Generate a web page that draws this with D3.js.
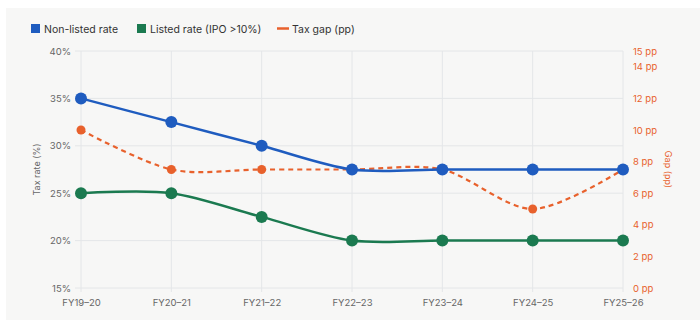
<!DOCTYPE html>
<html>
<head>
<meta charset="utf-8">
<script src="https://cdn.jsdelivr.net/npm/d3@7"></script>
<style>
  html, body { margin: 0; padding: 0; background: #ffffff; }
  svg { display: block; }
  text { font-family: Inter, "Noto Sans", sans-serif; }
</style>
</head>
<body>
<svg id="chart" width="700" height="320"></svg>
<script>
// Fiscal years on the x axis
const years = ["FY19–20", "FY20–21", "FY21–22", "FY22–23", "FY23–24", "FY24–25", "FY25–26"];
// Effective tax rates (%)
const nonListedRate = [35, 32.5, 30, 27.5, 27.5, 27.5, 27.5];
const listedRate = [25, 25, 22.5, 20, 20, 20, 20];
// Gap between the two regimes, percentage points
const taxGap = [10, 7.5, 7.5, 7.5, 7.5, 5, 7.5];
// Axis ticks
const rateTicks = [15, 20, 25, 30, 35, 40];
const gapTicks = [0, 2, 4, 6, 8, 10, 12, 14, 15];

const colors = { blue: "#1f5cbf", green: "#1b7a50", orange: "#e8612c" };

const svg = d3.select("#chart");
const W = 700, H = 320;
const m = { left: 81, right: 77, top: 51, bottom: 32 };

svg.append("rect").attr("x", 6).attr("y", 8).attr("width", W - 6).attr("height", H - 8)
  .attr("fill", "#f7f7f6");

const x = d3.scalePoint().domain(years).range([m.left, W - m.right]);
const yRate = d3.scaleLinear().domain([15, 40]).range([H - m.bottom, m.top]);
const yGap = d3.scaleLinear().domain([0, 15]).range([H - m.bottom, m.top]);

// grid
const grid = svg.append("g");
grid.selectAll(".vg").data(years).join("line")
  .attr("x1", d => x(d)).attr("x2", d => x(d))
  .attr("y1", m.top).attr("y2", H - m.bottom + 4)
  .attr("stroke", "#e4e6e8").attr("stroke-width", 1);
grid.selectAll(".hg").data(rateTicks).join("line")
  .attr("x1", m.left - 6).attr("x2", W - m.right)
  .attr("y1", d => yRate(d)).attr("y2", d => yRate(d))
  .attr("stroke", "#e4e6e8").attr("stroke-width", 1);

// left axis
const leftAxis = svg.append("g").attr("transform", `translate(${m.left},0)`)
  .call(d3.axisLeft(yRate).tickValues(rateTicks).tickFormat(d => d + "%").tickSize(0).tickPadding(10));
leftAxis.select(".domain").remove();
leftAxis.selectAll("text").attr("fill", "#666").attr("font-size", 9.5);

// right axis
const rightAxis = svg.append("g").attr("transform", `translate(${W - m.right},0)`)
  .call(d3.axisRight(yGap).tickValues(gapTicks).tickFormat(d => d + " pp").tickSize(0).tickPadding(10));
rightAxis.select(".domain").remove();
rightAxis.selectAll("text").attr("fill", colors.orange).attr("font-size", 9.5);

// bottom axis
const bottomAxis = svg.append("g").attr("transform", `translate(0,${H - m.bottom})`)
  .call(d3.axisBottom(x).tickSize(0).tickPadding(11));
bottomAxis.select(".domain").remove();
bottomAxis.selectAll("text").attr("fill", "#666").attr("font-size", 9.5);

// axis titles
svg.append("text").attr("transform", `translate(40,${(m.top + H - m.bottom) / 2}) rotate(-90)`)
  .attr("text-anchor", "middle").attr("fill", "#666").attr("font-size", 9).text("Tax rate (%)");
svg.append("text").attr("transform", `translate(665,${(m.top + H - m.bottom) / 2}) rotate(90)`)
  .attr("text-anchor", "middle").attr("fill", colors.orange).attr("font-size", 9).text("Gap (pp)");

const curve = d3.curveCardinal.tension(0.1);

function drawSeries(values, scale, color, opts) {
  const line = d3.line().x((d, i) => x(years[i])).y(d => scale(d)).curve(curve);
  svg.append("path").datum(values).attr("d", line)
    .attr("fill", "none").attr("stroke", color).attr("stroke-width", opts.width)
    .attr("stroke-dasharray", opts.dash || null);
  svg.append("g").selectAll("circle").data(values).join("circle")
    .attr("cx", (d, i) => x(years[i])).attr("cy", d => scale(d)).attr("r", opts.r)
    .attr("fill", color);
}

drawSeries(taxGap, yGap, colors.orange, { width: 2.2, dash: "5,4", r: 4.5 });
drawSeries(listedRate, yRate, colors.green, { width: 2.5, r: 6 });
drawSeries(nonListedRate, yRate, colors.blue, { width: 2.5, r: 6 });

// legend
const legend = svg.append("g").attr("font-size", 10.5).attr("fill", "#333");
legend.append("rect").attr("x", 31).attr("y", 24).attr("width", 9).attr("height", 9).attr("fill", colors.blue);
legend.append("text").attr("x", 44).attr("y", 32.5).attr("fill", "#333").text("Non-listed rate");
legend.append("rect").attr("x", 137).attr("y", 24).attr("width", 9).attr("height", 9).attr("fill", colors.green);
legend.append("text").attr("x", 150).attr("y", 32.5).attr("fill", "#333").text("Listed rate (IPO >10%)");
legend.append("line").attr("x1", 277).attr("x2", 289).attr("y1", 28.5).attr("y2", 28.5)
  .attr("stroke", colors.orange).attr("stroke-width", 2.5);
legend.append("text").attr("x", 292).attr("y", 32.5).attr("fill", "#333").text("Tax gap (pp)");
</script>
</body>
</html>
